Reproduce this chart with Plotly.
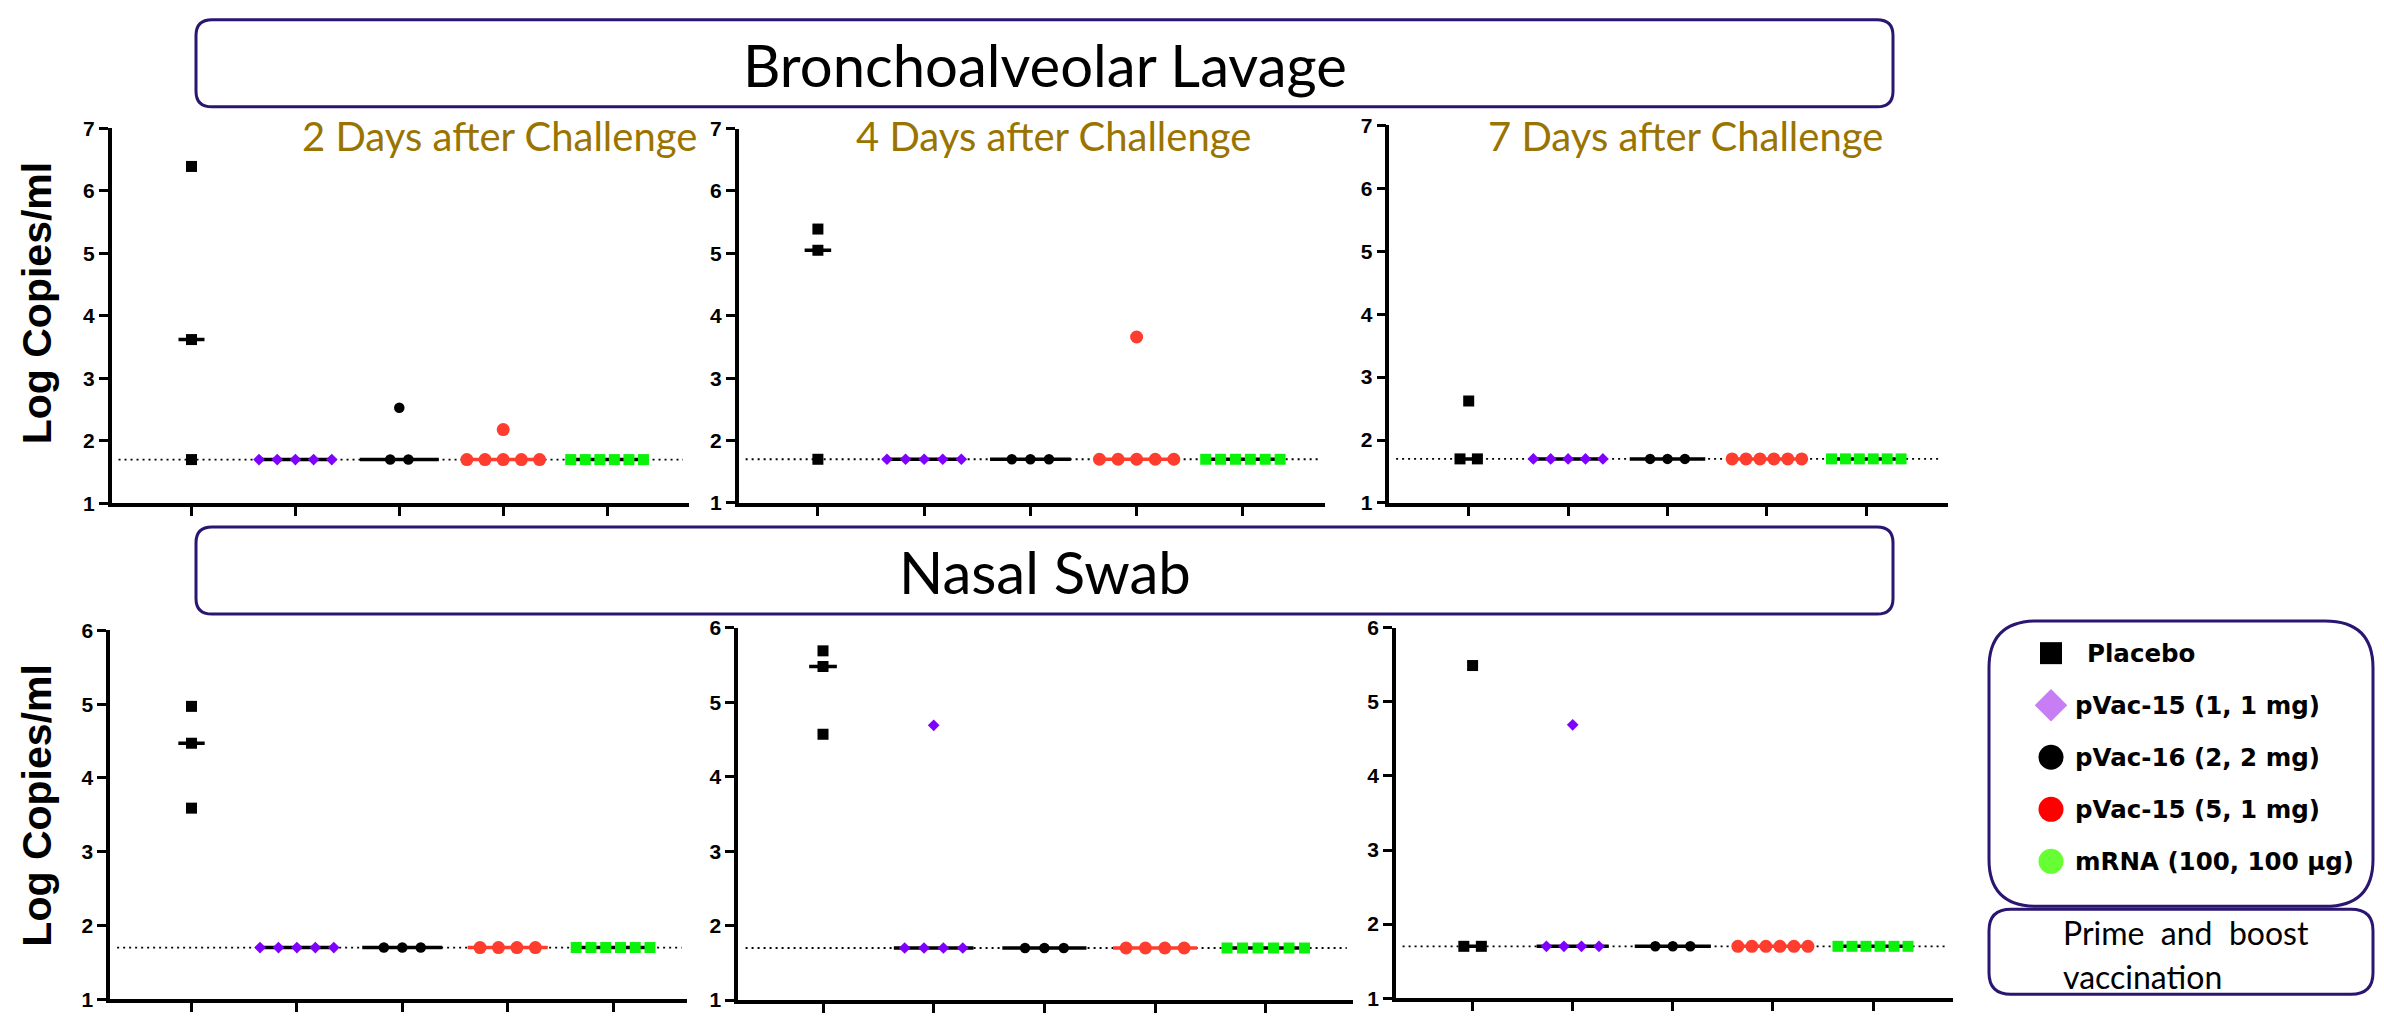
import numpy as np
import plotly.graph_objects as go

W, H = 2384, 1017

# ---------------- data ----------------
categories = ["Placebo", "pVac-15 (1, 1 mg)", "pVac-16 (2, 2 mg)",
              "pVac-15 (5, 1 mg)", "mRNA (100, 100 µg)"]
LOD = 1.7

section_titles = ["Bronchoalveolar Lavage", "Nasal Swab"]
day_titles = ["2 Days after Challenge", "4 Days after Challenge", "7 Days after Challenge"]
yticks_bal = [1, 2, 3, 4, 5, 6, 7]
yticks_ns = [1, 2, 3, 4, 5, 6]
y_title = "Log Copies/ml"

# Bronchoalveolar lavage
bal_d2_placebo = [6.39, 3.62, 1.7]
bal_d2_pvac15_1 = [1.7, 1.7, 1.7, 1.7, 1.7]
bal_d2_pvac16_2 = [2.53, 1.7, 1.7]
bal_d2_pvac15_5 = [2.18, 1.7, 1.7, 1.7, 1.7, 1.7]
bal_d2_mrna = [1.7, 1.7, 1.7, 1.7, 1.7, 1.7]

bal_d4_placebo = [5.39, 5.05, 1.7]
bal_d4_pvac15_1 = [1.7, 1.7, 1.7, 1.7, 1.7]
bal_d4_pvac16_2 = [1.7, 1.7, 1.7]
bal_d4_pvac15_5 = [3.66, 1.7, 1.7, 1.7, 1.7, 1.7]
bal_d4_mrna = [1.7, 1.7, 1.7, 1.7, 1.7, 1.7]

bal_d7_placebo = [2.62, 1.7, 1.7]
bal_d7_pvac15_1 = [1.7, 1.7, 1.7, 1.7, 1.7]
bal_d7_pvac16_2 = [1.7, 1.7, 1.7]
bal_d7_pvac15_5 = [1.7, 1.7, 1.7, 1.7, 1.7, 1.7]
bal_d7_mrna = [1.7, 1.7, 1.7, 1.7, 1.7, 1.7]

# Nasal swab
ns_d2_placebo = [4.97, 4.47, 3.59]
ns_d2_pvac15_1 = [1.7, 1.7, 1.7, 1.7, 1.7]
ns_d2_pvac16_2 = [1.7, 1.7, 1.7]
ns_d2_pvac15_5 = [1.7, 1.7, 1.7, 1.7]
ns_d2_mrna = [1.7, 1.7, 1.7, 1.7, 1.7, 1.7]

ns_d4_placebo = [5.69, 5.48, 4.57]
ns_d4_pvac15_1 = [4.69, 1.7, 1.7, 1.7, 1.7]
ns_d4_pvac16_2 = [1.7, 1.7, 1.7]
ns_d4_pvac15_5 = [1.7, 1.7, 1.7, 1.7]
ns_d4_mrna = [1.7, 1.7, 1.7, 1.7, 1.7, 1.7]

ns_d7_placebo = [5.49, 1.7, 1.7]
ns_d7_pvac15_1 = [4.69, 1.7, 1.7, 1.7, 1.7]
ns_d7_pvac16_2 = [1.7, 1.7, 1.7]
ns_d7_pvac15_5 = [1.7, 1.7, 1.7, 1.7, 1.7, 1.7]
ns_d7_mrna = [1.7, 1.7, 1.7, 1.7, 1.7, 1.7]

panels_data = [
    [bal_d2_placebo, bal_d2_pvac15_1, bal_d2_pvac16_2, bal_d2_pvac15_5, bal_d2_mrna],
    [bal_d4_placebo, bal_d4_pvac15_1, bal_d4_pvac16_2, bal_d4_pvac15_5, bal_d4_mrna],
    [bal_d7_placebo, bal_d7_pvac15_1, bal_d7_pvac16_2, bal_d7_pvac15_5, bal_d7_mrna],
    [ns_d2_placebo, ns_d2_pvac15_1, ns_d2_pvac16_2, ns_d2_pvac15_5, ns_d2_mrna],
    [ns_d4_placebo, ns_d4_pvac15_1, ns_d4_pvac16_2, ns_d4_pvac15_5, ns_d4_mrna],
    [ns_d7_placebo, ns_d7_pvac15_1, ns_d7_pvac16_2, ns_d7_pvac15_5, ns_d7_mrna],
]

# ---------------- styles / layout ----------------
group_styles = [
    dict(symbol="square", color="#000000", size=11, median_color="#000000", half=0.125),
    dict(symbol="diamond", color="#7F00FF", size=9, median_color="#000000", half=0.36),
    dict(symbol="circle", color="#000000", size=10.5, median_color="#000000", half=0.38),
    dict(symbol="circle", color="#FF3D2E", size=13, median_color="#FF3D2E", half=0.38),
    dict(symbol="square", color="#0AF20A", size=11, median_color="#000000", half=0.37),
]
legend_styles = [
    dict(symbol="square", color="#000000", size=22),
    dict(symbol="diamond", color="#C77DF3", size=25),
    dict(symbol="circle", color="#000000", size=25),
    dict(symbol="circle", color="#FF0000", size=25),
    dict(symbol="circle", color="#66FF33", size=25),
]

# panel geometry in pixels: left, right, top, bottom, first-tick px, tick step px
geom = [
    (111.6, 688.8, 119.0, 502.7, 191.5, 103.9),
    (738.6, 1325.3, 119.3, 502.3, 817.9, 106.25),
    (1389.4, 1947.5, 116.0, 502.3, 1468.7, 99.4),
    (110.2, 687.4, 632.7, 1010.0, 191.5, 105.4),
    (738.2, 1352.9, 630.0, 1011.0, 823.0, 110.7),
    (1395.9, 1953.1, 630.0, 1009.0, 1472.6, 100.1),
]

BOX_COLOR = "#2A1570"
GOLD = "#9A7400"
TITLE_FONT = "Lato, 'Open Sans', sans-serif"
LEGEND_FONT = "'DejaVu Sans', 'Open Sans', sans-serif"
TICK_FONT = "'Liberation Sans', Arial, sans-serif"


def spread(values):
    """Horizontal offsets for points sharing the same value (scatter dot plot)."""
    vals = np.asarray(values, dtype=float)
    offs = np.zeros(len(vals))
    for v in np.unique(vals):
        idx = np.where(vals == v)[0]
        n = len(idx)
        if n > 1:
            s = min(0.175, 0.7 / (n - 1))
            offs[idx] = (np.arange(n) - (n - 1) / 2) * s
    return offs


def px2paper_x(px):
    return px / W


def px2paper_y(py):
    return 1 - py / H


def rounded_box(x0, y0, x1, y1, r):
    rx, ry = r / W, r / H
    X0, X1 = px2paper_x(x0), px2paper_x(x1)
    Y0, Y1 = px2paper_y(y0), px2paper_y(y1)  # Y0 top, Y1 bottom
    return (f"M {X0+rx},{Y0} L {X1-rx},{Y0} Q {X1},{Y0} {X1},{Y0-ry} "
            f"L {X1},{Y1+ry} Q {X1},{Y1} {X1-rx},{Y1} "
            f"L {X0+rx},{Y1} Q {X0},{Y1} {X0},{Y1+ry} "
            f"L {X0},{Y0-ry} Q {X0},{Y0} {X0+rx},{Y0} Z")


fig = go.Figure()
layout = dict(width=W, height=H, margin=dict(l=0, r=0, t=0, b=0),
              plot_bgcolor="white", paper_bgcolor="white", showlegend=False)
shapes = []
annotations = []

for p, groups in enumerate(panels_data):
    k = p + 1
    xa = "x" if k == 1 else f"x{k}"
    ya = "y" if k == 1 else f"y{k}"
    left, right, top, bottom, t0, step = geom[p]
    yticks = yticks_bal if p < 3 else yticks_ns
    for gi, vals in enumerate(groups):
        st = group_styles[gi]
        med = float(np.median(vals))
        fig.add_trace(go.Scatter(
            x=[gi - st["half"], gi + st["half"]], y=[med, med], mode="lines",
            line=dict(color=st["median_color"], width=3.5),
            xaxis=xa, yaxis=ya, hoverinfo="skip"))
        fig.add_trace(go.Scatter(
            x=gi + spread(vals), y=vals, mode="markers",
            marker=dict(symbol=st["symbol"], color=st["color"], size=st["size"],
                        line=dict(width=0)),
            xaxis=xa, yaxis=ya, name=categories[gi], cliponaxis=False))
    layout["xaxis" if k == 1 else f"xaxis{k}"] = dict(
        domain=[left / W, right / W],
        range=[(left - t0) / step, (right - t0) / step],
        anchor=ya, showgrid=False, zeroline=False, showline=True,
        linecolor="black", linewidth=3.5, ticks="outside", ticklen=9,
        tickwidth=3, tickcolor="black", tickvals=list(range(len(categories))),
        showticklabels=False, fixedrange=True)
    layout["yaxis" if k == 1 else f"yaxis{k}"] = dict(
        domain=[1 - bottom / H, 1 - top / H],
        range=[yticks[0], yticks[-1]], anchor=xa,
        showgrid=False, zeroline=False, showline=True, linecolor="black",
        linewidth=3.5, ticks="outside", ticklen=9, tickwidth=3,
        tickcolor="black", tickvals=yticks, ticktext=[str(t) for t in yticks],
        tickfont=dict(family=TICK_FONT, size=21, color="black", weight="bold"),
        fixedrange=True)
    shapes.append(dict(type="line", xref=f"{xa} domain", yref=ya,
                       x0=0.012, x1=0.99, y0=LOD, y1=LOD, layer="below",
                       line=dict(color="black", width=1.8, dash="2px,4px")))

# panel (day) titles
day_title_centers = [499, 1053, 1685]
for t, cx in zip(day_titles, day_title_centers):
    annotations.append(dict(text=t, xref="paper", yref="paper",
                            x=px2paper_x(cx), y=px2paper_y(127),
                            xanchor="center", yanchor="middle", showarrow=False,
                            font=dict(family=TITLE_FONT, size=40, color=GOLD)))

# section boxes and titles
section_boxes = [(196, 8, 1893, 97), (196, 527, 1893, 616)]
for t, (x0, y0, x1, y1) in zip(section_titles, section_boxes):
    shapes.append(dict(type="path", xref="paper", yref="paper",
                       path=rounded_box(x0, y0, x1, y1, 16),
                       line=dict(color=BOX_COLOR, width=3), fillcolor="rgba(0,0,0,0)"))
    annotations.append(dict(text=t, xref="paper", yref="paper",
                            x=px2paper_x((x0 + x1) / 2), y=px2paper_y((y0 + y1) / 2 + 1),
                            xanchor="center", yanchor="middle", showarrow=False,
                            font=dict(family=TITLE_FONT, size=58, color="black")))

# y-axis titles
for cy in (298, 812):
    annotations.append(dict(text=y_title, xref="paper", yref="paper",
                            x=px2paper_x(37), y=px2paper_y(cy), textangle=-90,
                            xanchor="center", yanchor="middle", showarrow=False,
                            font=dict(family="'Liberation Sans', Arial, sans-serif",
                                      size=41, color="black", weight="bold")))

# legend box
LEG = (1989, 623, 2373, 915)
shapes.append(dict(type="path", xref="paper", yref="paper",
                   path=rounded_box(*LEG, 48),
                   line=dict(color=BOX_COLOR, width=3), fillcolor="rgba(0,0,0,0)"))
item_top, item_step = 656, 53.25
layout["xaxis7"] = dict(domain=[LEG[0] / W, LEG[2] / W], range=[0, LEG[2] - LEG[0]],
                        visible=False, fixedrange=True, anchor="y7")
layout["yaxis7"] = dict(domain=[1 - LEG[3] / H, 1 - LEG[1] / H],
                        range=[(LEG[3] - item_top) / item_step, (LEG[1] - item_top) / item_step],
                        visible=False, fixedrange=True, anchor="x7")
for i, (name, st) in enumerate(zip(categories, legend_styles)):
    fig.add_trace(go.Scatter(x=[62], y=[i], mode="markers", xaxis="x7", yaxis="y7",
                             marker=dict(symbol=st["symbol"], color=st["color"],
                                         size=st["size"], line=dict(width=0)),
                             hoverinfo="skip", cliponaxis=False))
    annotations.append(dict(text=name, xref="x7", yref="y7",
                            x=96 if i == 0 else 84, y=i,
                            xanchor="left", yanchor="middle", showarrow=False,
                            font=dict(family=LEGEND_FONT, size=24.5, color="black",
                                      weight="bold")))

# prime/boost box
PB = (1989, 918, 2373, 1005)
shapes.append(dict(type="path", xref="paper", yref="paper",
                   path=rounded_box(*PB, 22),
                   line=dict(color=BOX_COLOR, width=3), fillcolor="rgba(0,0,0,0)"))
pb_lines = ["Prime\u00a0\u00a0and\u00a0\u00a0boost", "vaccination"]
for line_text, cy in zip(pb_lines, (942, 987)):
    annotations.append(dict(text=line_text, xref="paper", yref="paper",
                            x=px2paper_x(2061), y=px2paper_y(cy),
                            xanchor="left", yanchor="middle", showarrow=False,
                            font=dict(family=TITLE_FONT, size=32, color="black")))

layout["shapes"] = shapes
layout["annotations"] = annotations
fig.update_layout(**layout)
fig.write_html("out.html")
